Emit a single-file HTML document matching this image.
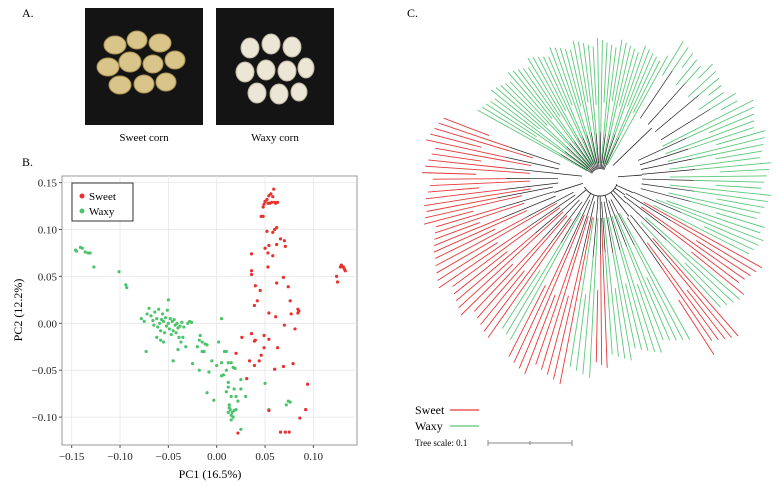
<!DOCTYPE html>
<html><head><meta charset="utf-8"><style>
body{margin:0;background:#fff;}
svg{display:block;font-family:"Liberation Serif",serif;}
</style></head><body>
<svg id="fig" width="781" height="486" viewBox="0 0 781 486" xmlns="http://www.w3.org/2000/svg">
  <text x="22" y="17" font-size="12">A.</text>
  <text x="22" y="166" font-size="12">B.</text>
  <text x="407" y="17" font-size="12">C.</text>
  <g>
    <rect x="85" y="8" width="118" height="117" fill="#141414"/>
    <g fill="#d9c58a" stroke="#a8914f" stroke-width="1">
      <ellipse cx="115" cy="45" rx="11" ry="9"/><ellipse cx="137" cy="40" rx="10" ry="9"/><ellipse cx="160" cy="43" rx="11" ry="9"/>
      <ellipse cx="108" cy="67" rx="11" ry="9"/><ellipse cx="130" cy="62" rx="11" ry="10"/><ellipse cx="153" cy="64" rx="10" ry="9"/><ellipse cx="175" cy="60" rx="10" ry="9"/>
      <ellipse cx="120" cy="85" rx="11" ry="9"/><ellipse cx="144" cy="84" rx="10" ry="9"/><ellipse cx="166" cy="82" rx="10" ry="9"/>
    </g>
  </g>
  <g>
    <rect x="216" y="8" width="118" height="117" fill="#141414"/>
    <g fill="#ece6d6" stroke="#bdb4a0" stroke-width="1">
      <ellipse cx="250" cy="48" rx="9" ry="10"/><ellipse cx="271" cy="44" rx="9" ry="10"/><ellipse cx="292" cy="47" rx="9" ry="10"/>
      <ellipse cx="245" cy="72" rx="9" ry="10"/><ellipse cx="266" cy="70" rx="9" ry="10"/><ellipse cx="287" cy="71" rx="9" ry="10"/><ellipse cx="306" cy="68" rx="8" ry="10"/>
      <ellipse cx="257" cy="93" rx="9" ry="10"/><ellipse cx="279" cy="94" rx="9" ry="10"/><ellipse cx="299" cy="92" rx="8" ry="9"/>
    </g>
  </g>
  <text x="144" y="141" font-size="11" text-anchor="middle">Sweet corn</text>
  <text x="275" y="141" font-size="11" text-anchor="middle">Waxy corn</text>

  <g id="pca"></g>
  <g id="tree"></g>

  <g>
    <text x="415" y="414" font-size="12">Sweet</text>
    <line x1="450" y1="410" x2="479" y2="410" stroke="#e8383a" stroke-width="1.3"/>
    <text x="415" y="430" font-size="12">Waxy</text>
    <line x1="450" y1="426" x2="479" y2="426" stroke="#5cc87a" stroke-width="1.3"/>
    <text x="415" y="446" font-size="9">Tree scale: 0.1</text>
    <g stroke="#888" stroke-width="1">
      <line x1="488" y1="443" x2="572" y2="443"/><line x1="488" y1="440" x2="488" y2="446"/><line x1="530" y1="441" x2="530" y2="445"/><line x1="572" y1="440" x2="572" y2="446"/>
    </g>
  </g>
</svg>
<script>
const NS="http://www.w3.org/2000/svg";
const xTicks=[-0.15,-0.10,-0.05,0.00,0.05,0.10];
const yTicks=[-0.10,-0.05,0.00,0.05,0.10,0.15];
const xTickLabels=["\u22120.15","\u22120.10","\u22120.05","0.00","0.05","0.10"];
const yTickLabels=["\u22120.10","\u22120.05","0.00","0.05","0.10","0.15"];
const sweetX=[0.059,0.056,0.054,0.058,0.052,0.050,0.053,0.057,0.060,0.063,0.049,0.048,0.055,0.061,0.046,0.048,0.052,0.058,0.060,0.062,0.036,0.050,0.053,0.054,0.058,0.062,0.066,0.070,0.071,0.053,0.036,0.036,0.040,0.045,0.042,0.039,0.062,0.069,0.074,0.076,0.054,0.061,0.077,0.084,0.085,0.084,0.070,0.081,0.129,0.131,0.132,0.133,0.128,0.124,0.125,0.026,0.036,0.039,0.040,0.049,0.049,0.054,0.046,0.063,0.020,0.034,0.044,0.039,0.060,0.069,0.079,0.031,0.094,0.054,0.092,0.086,0.022,0.066,0.071,0.075];
const sweetY=[0.143,0.138,0.136,0.135,0.132,0.130,0.128,0.129,0.129,0.129,0.127,0.124,0.128,0.128,0.114,0.114,0.098,0.097,0.100,0.102,0.074,0.080,0.075,0.083,0.072,0.084,0.090,0.088,0.082,0.060,0.056,0.052,0.040,0.035,0.024,0.019,0.043,0.049,0.039,0.024,0.011,0.007,0.010,0.015,0.013,0.011,-0.002,-0.006,0.062,0.060,0.058,0.056,0.060,0.050,0.044,-0.015,-0.011,-0.019,-0.018,-0.013,-0.026,-0.017,-0.034,-0.026,-0.032,-0.040,-0.040,-0.045,-0.049,-0.046,-0.043,-0.059,-0.065,-0.093,-0.092,-0.101,-0.117,-0.116,-0.116,-0.116];
const waxyX=[-0.146,-0.145,-0.141,-0.139,-0.136,-0.133,-0.131,-0.127,-0.101,-0.094,-0.093,-0.078,-0.075,-0.072,-0.070,-0.068,-0.066,-0.065,-0.064,-0.062,-0.061,-0.060,-0.059,-0.058,-0.057,-0.056,-0.055,-0.054,-0.053,-0.052,-0.051,-0.050,-0.050,-0.049,-0.048,-0.047,-0.046,-0.045,-0.044,-0.043,-0.042,-0.041,-0.040,-0.039,-0.038,-0.037,-0.036,-0.034,-0.032,-0.030,-0.028,-0.026,-0.062,-0.058,-0.073,-0.055,-0.045,-0.040,-0.035,-0.025,-0.020,-0.018,-0.017,-0.015,-0.013,-0.012,-0.010,-0.018,-0.015,-0.005,0.000,0.002,0.005,0.008,0.010,0.005,0.012,0.015,0.017,0.019,0.010,0.007,0.005,-0.008,0.012,0.025,-0.010,-0.003,0.010,0.012,0.015,0.018,0.020,0.022,0.025,0.030,0.013,0.014,0.016,0.018,0.020,0.012,0.015,0.017,0.015,0.013,0.025,0.050,0.054,0.072,0.074,0.076];
const waxyY=[0.078,0.077,0.081,0.080,0.076,0.075,0.075,0.060,0.055,0.041,0.038,0.005,0.002,0.010,0.016,0.008,0.003,-0.002,0.012,0.005,-0.004,0.015,0.000,-0.008,0.004,0.010,0.002,-0.010,0.006,-0.003,0.014,0.025,0.000,-0.006,0.005,-0.012,0.002,-0.008,0.004,-0.002,-0.010,0.000,-0.005,-0.015,-0.003,-0.020,0.001,-0.004,-0.025,0.000,0.002,0.001,-0.015,-0.018,-0.030,-0.020,-0.040,-0.028,-0.015,-0.043,-0.025,-0.018,-0.013,-0.020,-0.030,-0.022,-0.023,-0.050,-0.030,-0.040,-0.045,-0.020,0.005,-0.030,-0.030,-0.042,-0.042,-0.042,-0.047,-0.048,-0.050,-0.055,-0.056,-0.052,-0.063,-0.060,-0.074,-0.082,-0.073,-0.068,-0.078,-0.070,-0.078,-0.083,-0.070,-0.078,-0.087,-0.092,-0.095,-0.093,-0.092,-0.095,-0.098,-0.100,-0.103,-0.090,-0.113,-0.064,-0.092,-0.087,-0.083,-0.084];

const L=62,R=357,T=176,B=445;
const xs=v=>216.7+v*966.7;
const ys=v=>323.3-v*938;
const pca=document.getElementById('pca');
function mk(tag,attrs,parent){const e=document.createElementNS(NS,tag);for(const k in attrs)e.setAttribute(k,attrs[k]);parent.appendChild(e);return e;}
const bg=mk('rect',{x:L,y:T,width:R-L,height:B-T,fill:'#fff',stroke:'#999','stroke-width':1},pca);


xTicks.forEach((t,i)=>{
  const g=mk('line',{x1:xs(t),x2:xs(t),y1:T,y2:B,stroke:'#e6e6e6','stroke-width':0.8},pca);
  
  
  const tk=mk('line',{x1:xs(t),x2:xs(t),y1:B,y2:B+3,stroke:'#555'},pca);
  
  
  const tx=mk('text',{x:xs(t),y:B+15,'font-size':11,'text-anchor':'middle',fill:'#222'},pca);
  tx.textContent=xTickLabels[i];
  
  
});
yTicks.forEach((t,i)=>{
  const g=mk('line',{x1:L,x2:R,y1:ys(t),y2:ys(t),stroke:'#e6e6e6','stroke-width':0.8},pca);
  
  
  const tk=mk('line',{x1:L-3,x2:L,y1:ys(t),y2:ys(t),stroke:'#555'},pca);
  
  
  const tx=mk('text',{x:L-5,y:ys(t)+4,'font-size':11,'text-anchor':'end',fill:'#222'},pca);
  tx.textContent=yTickLabels[i];
  
  
});
const xt=mk('text',{x:210,y:478,'font-size':12,'text-anchor':'middle'},pca);
xt.textContent='PC1 (16.5%)';


const yt=mk('text',{x:0,y:0,'font-size':12,'text-anchor':'middle',transform:'translate(22,310) rotate(-90)'},pca);
yt.textContent='PC2 (12.2%)';


waxyX.forEach((v,i)=>{
  const c=mk('circle',{cx:xs(v),cy:ys(waxyY[i]),r:1.6,fill:'#4cc36b'},pca);
  
  
});
sweetX.forEach((v,i)=>{
  const c=mk('circle',{cx:xs(v),cy:ys(sweetY[i]),r:1.6,fill:'#e8302e'},pca);
  
  
});
const lg=mk('g',{},pca);


mk('rect',{x:72,y:183,width:61,height:38,fill:'#fff',stroke:'#333','stroke-width':1},lg);
mk('circle',{cx:82,cy:196,r:2.5,fill:'#e8302e'},lg);
mk('circle',{cx:82,cy:211,r:2.5,fill:'#4cc36b'},lg);
const l1=mk('text',{x:89,y:200,'font-size':11},lg);l1.textContent='Sweet';


const l2=mk('text',{x:89,y:215,'font-size':11},lg);l2.textContent='Waxy';



// Tree: clades (angles in degrees clockwise from right), leaf counts, group, inner/outer branch lengths
const cladeStart=[208,300,332,20,28,40,48,60,87,92,100,118,124,155,170];
const cladeEnd=[300,332,380,28,40,48,58,87,92,100,118,124,155,170,202];
const cladeCount=[46,12,22,4,6,4,6,14,3,4,9,3,15,8,15];
const cladeGroup=['w','w','w','w','s','w','s','w','s','w','s','w','s','s','s'];
const cladeInner=[15,120,70,60,50,60,80,40,40,40,40,40,50,80,70];
const cladeOuter=[140,160,172,175,185,185,210,185,190,200,210,185,195,182,178];
const cx=600,cy=178;
const tree=document.getElementById('tree');
const pt=(a,r)=>[cx+r*Math.cos(a*Math.PI/180),cy+r*Math.sin(a*Math.PI/180)];
mk('path',{d:`M${pt(150,18)} A18 18 0 0 0 ${pt(20,18)}`,fill:'none',stroke:'#222','stroke-width':0.8},tree);
cladeStart.forEach((s,i)=>{
  const e=cladeEnd[i],n=cladeCount[i],col=cladeGroup[i]==='s'?'#e8383a':'#5cc87a';
  const g=mk('g',{},tree);
  
  
  const ri=cladeInner[i];
  if(ri>20){
    const mid=(s+e)/2;
    mk('line',{x1:pt(mid,18)[0],y1:pt(mid,18)[1],x2:pt(mid,ri*0.6)[0],y2:pt(mid,ri*0.6)[1],stroke:'#222','stroke-width':0.8},g);
  }
  for(let k=0;k<n;k++){
    const a=s+(e-s)*(k+0.5)/n;
    const ro=cladeOuter[i]*(1-0.06*((k%5)/4));
    const rb=ri+(ro-ri)*((k%3)*0.25);
    if(k%3===1) mk('line',{x1:pt(a,ri*0.6)[0],y1:pt(a,ri*0.6)[1],x2:pt(a,rb)[0],y2:pt(a,rb)[1],stroke:'#222','stroke-width':0.7},g);
    const lf=mk('line',{x1:pt(a,rb)[0],y1:pt(a,rb)[1],x2:pt(a,ro)[0],y2:pt(a,ro)[1],stroke:col,'stroke-width':0.9},g);
    
    
  }
});
</script>
</body></html>
